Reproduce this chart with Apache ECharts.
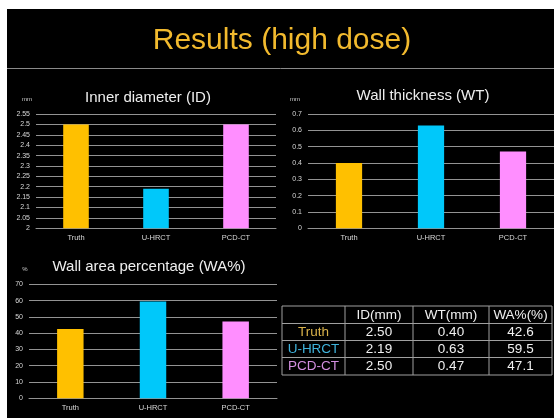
<!DOCTYPE html>
<html>
<head>
<meta charset="utf-8">
<script src="https://cdn.jsdelivr.net/npm/echarts@6/dist/echarts.min.js"></script>
<style>
html,body{margin:0;padding:0;background:#fff;}
#bg{position:absolute;left:7px;top:9px;width:547px;height:409px;background:#000;}
#chart{position:absolute;left:0;top:0;width:554px;height:418px;}
</style>
</head>
<body>
<div id="bg"></div>
<div id="chart"></div>
<script>
const categories = ['Truth', 'U-HRCT', 'PCD-CT'];
const idValues = [2.50, 2.19, 2.50];
const wtValues = [0.40, 0.63, 0.47];
const waValues = [42.6, 59.5, 47.1];
const tableHeaders = ['ID(mm)', 'WT(mm)', 'WA%(%)'];
const idTicks = {min: 2, max: 2.55, interval: 0.05};
const wtTicks = {min: 0, max: 0.7, interval: 0.1};
const waTicks = {min: 0, max: 70, interval: 10};

const barColors = ['#FFC000', '#00C8FA', '#FF8EFF'];
const tableTextColors = ['#D9B24A', '#3FB3DC', '#D38FE0'];
const FONT = '"Liberation Sans", Arial, sans-serif';
const gridLineColor = '#939393';

const chart = echarts.init(document.getElementById('chart'), null, {renderer: 'canvas'});

function xAxisFor(gi) {
  return {
    type: 'category', gridIndex: gi, data: categories,
    axisTick: {show: false},
    axisLine: {show: true, lineStyle: {color: gridLineColor, width: 1}},
    axisLabel: {color: '#d8d8d8', fontSize: 7.5, fontFamily: FONT, margin: 6}
  };
}
function yAxisFor(gi, t) {
  return {
    type: 'value', gridIndex: gi, min: t.min, max: t.max, interval: t.interval,
    axisLine: {show: false}, axisTick: {show: false},
    splitLine: {show: true, lineStyle: {color: gridLineColor, width: 1}},
    axisLabel: {color: '#d8d8d8', fontSize: 7, fontFamily: FONT, margin: 6}
  };
}
function barSeries(gi, vals) {
  return {
    type: 'bar', xAxisIndex: gi, yAxisIndex: gi, barWidth: '32%',
    data: vals.map((v, i) => ({value: v, itemStyle: {color: barColors[i]}})),
    silent: true, animation: false
  };
}

// table
const colEdges = [282, 345, 413, 489, 552];
const rowEdges = [306, 323.5, 340.5, 357.5, 375];
const tableGraphics = [];
const lineStyle = {stroke: '#a0a0a0', lineWidth: 1};
rowEdges.forEach(y => tableGraphics.push({type: 'line', shape: {x1: colEdges[0], y1: y, x2: colEdges[4], y2: y}, style: lineStyle}));
colEdges.forEach(x => tableGraphics.push({type: 'line', shape: {x1: x, y1: rowEdges[0], x2: x, y2: rowEdges[4]}, style: lineStyle}));
function cellText(txt, c, r, color) {
  tableGraphics.push({
    type: 'text',
    x: (colEdges[c] + colEdges[c + 1]) / 2,
    y: (rowEdges[r] + rowEdges[r + 1]) / 2 + 0.5,
    style: {text: txt, fill: color, font: '13.5px ' + FONT, align: 'center', verticalAlign: 'middle'}
  });
}
tableHeaders.forEach((h, i) => cellText(h, i + 1, 0, '#f0f0f0'));
categories.forEach((c, r) => {
  cellText(c, 0, r + 1, tableTextColors[r]);
  cellText(idValues[r].toFixed(2), 1, r + 1, '#f0f0f0');
  cellText(wtValues[r].toFixed(2), 2, r + 1, '#f0f0f0');
  cellText(waValues[r].toFixed(1), 3, r + 1, '#f0f0f0');
});

const subTitleStyle = {color: '#eeeeee', fontSize: 15, fontWeight: 'normal', fontFamily: FONT};
const unitStyle = {color: '#cfcfcf', fontSize: 6, fontWeight: 'normal', fontFamily: FONT};

chart.setOption({
  backgroundColor: 'transparent',
  animation: false,
  title: [
    {text: 'Results (high dose)', left: 282, top: 41, textAlign: 'center', textVerticalAlign: 'middle',
     textStyle: {color: '#F2BA2E', fontSize: 30, fontWeight: 'normal', fontFamily: FONT}, padding: 0},
    {text: 'Inner diameter (ID)', left: 148, top: 98, textAlign: 'center', textVerticalAlign: 'middle', textStyle: subTitleStyle, padding: 0},
    {text: 'Wall thickness (WT)', left: 423, top: 96, textAlign: 'center', textVerticalAlign: 'middle', textStyle: subTitleStyle, padding: 0},
    {text: 'Wall area percentage (WA%)', left: 149, top: 267, textAlign: 'center', textVerticalAlign: 'middle', textStyle: subTitleStyle, padding: 0},
    {text: 'mm', left: 27, top: 99, textAlign: 'center', textVerticalAlign: 'middle', textStyle: unitStyle, padding: 0},
    {text: 'mm', left: 295, top: 99, textAlign: 'center', textVerticalAlign: 'middle', textStyle: unitStyle, padding: 0},
    {text: '%', left: 25, top: 269, textAlign: 'center', textVerticalAlign: 'middle', textStyle: unitStyle, padding: 0}
  ],
  grid: [
    {left: 36, right: 278, top: 114, bottom: 189.7},
    {left: 308, right: 0, top: 114, bottom: 189.7},
    {left: 29, right: 277, top: 284.3, bottom: 19.7}
  ],
  xAxis: [xAxisFor(0), xAxisFor(1), xAxisFor(2)],
  yAxis: [yAxisFor(0, idTicks), yAxisFor(1, wtTicks), yAxisFor(2, waTicks)],
  series: [barSeries(0, idValues), barSeries(1, wtValues), barSeries(2, waValues)],
  graphic: [
    {type: 'line', shape: {x1: 7, y1: 68.5, x2: 554, y2: 68.5}, style: {stroke: '#8a8a8a', lineWidth: 1}},
    ...tableGraphics
  ]
});
</script>
</body>
</html>
